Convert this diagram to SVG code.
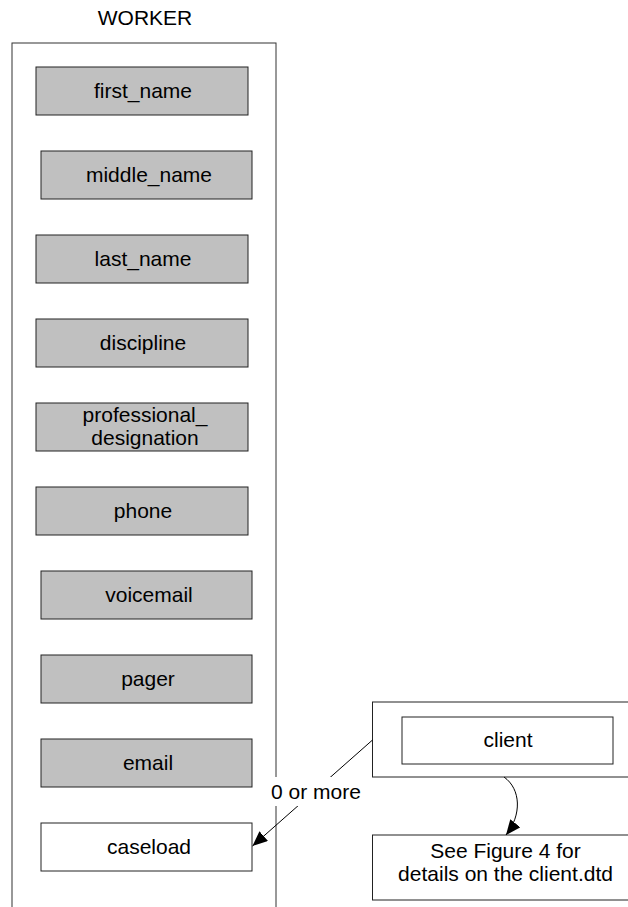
<svg xmlns="http://www.w3.org/2000/svg" width="628" height="907" viewBox="0 0 628 907">
  <style>
    text { font-family: "Liberation Sans", Arial, sans-serif; font-size: 21px; fill: #000; text-anchor: middle; }
    .frame { fill: #fff; stroke: #333; stroke-width: 1; }
    .field { fill: #c0c0c0; stroke: #222; stroke-width: 1; }
    .plain { fill: #fff; stroke: #222; stroke-width: 1; }
    .link { fill: none; stroke: #000; stroke-width: 1; }
  </style>
  <defs>
    <marker id="arrow" markerUnits="userSpaceOnUse" markerWidth="15" markerHeight="13" refX="15" refY="6.5" orient="auto">
      <path d="M0,0 L15,6.5 L0,13 z" fill="#000"/>
    </marker>
  </defs>

  <rect width="628" height="907" fill="#fff"/>

  <!-- WORKER container -->
  <g id="worker">
    <text x="145" y="25">WORKER</text>
    <rect class="frame" x="12" y="43" width="264" height="880"/>
  </g>

  <g id="first_name">
    <rect class="field" x="36" y="67" width="212" height="48"/>
    <text x="143" y="98">first_name</text>
  </g>
  <g id="middle_name">
    <rect class="field" x="41" y="151" width="211" height="48"/>
    <text x="149" y="182">middle_name</text>
  </g>
  <g id="last_name">
    <rect class="field" x="36" y="235" width="212" height="48"/>
    <text x="143" y="266">last_name</text>
  </g>
  <g id="discipline">
    <rect class="field" x="36" y="319" width="212" height="48"/>
    <text x="143" y="350">discipline</text>
  </g>
  <g id="professional_designation">
    <rect class="field" x="36" y="403" width="212" height="48"/>
    <text x="145" y="422">professional_</text>
    <text x="145" y="445">designation</text>
  </g>
  <g id="phone">
    <rect class="field" x="36" y="487" width="212" height="48"/>
    <text x="143" y="518">phone</text>
  </g>
  <g id="voicemail">
    <rect class="field" x="41" y="571" width="211" height="48"/>
    <text x="149" y="602">voicemail</text>
  </g>
  <g id="pager">
    <rect class="field" x="41" y="655" width="211" height="48"/>
    <text x="148" y="686">pager</text>
  </g>
  <g id="email">
    <rect class="field" x="41" y="739" width="211" height="48"/>
    <text x="148" y="770">email</text>
  </g>
  <g id="caseload">
    <rect class="plain" x="41" y="823" width="211" height="48"/>
    <text x="149" y="854">caseload</text>
  </g>

  <!-- client element group -->
  <g id="client_group">
    <rect class="plain" x="372.5" y="702" width="270" height="75"/>
  </g>
  <g id="client">
    <rect class="plain" x="402" y="717" width="211" height="47"/>
    <text x="508" y="747">client</text>
  </g>
  <g id="client_note">
    <rect class="plain" x="372.5" y="835" width="270" height="65"/>
    <text x="505.5" y="858">See Figure 4 for</text>
    <text x="505.5" y="881">details on the client.dtd</text>
  </g>

  <!-- connectors -->
  <g id="connectors">
    <line class="link" x1="372.5" y1="740" x2="252.5" y2="846" marker-end="url(#arrow)"/>
    <path class="link" d="M504,777 C521,789 522,815 506,835" marker-end="url(#arrow)"/>
    <rect x="268" y="777" width="96" height="29" fill="#fff"/>
    <text x="316" y="799">0 or more</text>
  </g>
</svg>
